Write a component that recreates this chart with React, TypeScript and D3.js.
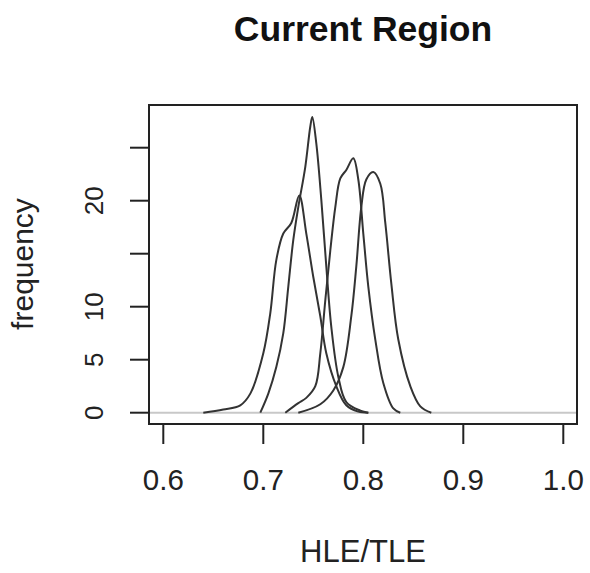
import * as d3 from 'd3'
import React from 'react'

// density curves: [x, frequency]
const regionA: [number, number][] = [
  [0.640, 0], [0.660, 0.3], [0.677, 0.7], [0.687, 1.8], [0.700, 5.6], [0.707, 9.4],
  [0.713, 14.4], [0.720, 16.9], [0.728, 17.9], [0.736, 20.5], [0.743, 16.9],
  [0.750, 12.8], [0.757, 9.1], [0.763, 5.6], [0.773, 2.5], [0.783, 0.7], [0.795, 0.1], [0.805, 0]
]
const regionB: [number, number][] = [
  [0.697, 0], [0.705, 1.8], [0.713, 4.3], [0.720, 7.5], [0.725, 11.9], [0.730, 16.3],
  [0.735, 19.4], [0.742, 23.2], [0.747, 27.0], [0.749, 27.9], [0.753, 25.4],
  [0.758, 20.1], [0.763, 13.8], [0.768, 8.1], [0.775, 3.4], [0.783, 1.0], [0.797, 0.2], [0.805, 0]
]
const regionC: [number, number][] = [
  [0.722, 0], [0.735, 0.9], [0.743, 1.4], [0.752, 2.5], [0.757, 5.6], [0.762, 10.6],
  [0.767, 15.3], [0.772, 19.4], [0.777, 22.1], [0.783, 22.9], [0.790, 24.0],
  [0.795, 22.0], [0.800, 16.9], [0.805, 11.9], [0.812, 6.9], [0.820, 2.8], [0.830, 0.4], [0.837, 0]
]
const regionD: [number, number][] = [
  [0.735, 0], [0.757, 0.8], [0.770, 2.1], [0.780, 4.3], [0.788, 9.1], [0.793, 13.8],
  [0.798, 19.4], [0.803, 22.0], [0.810, 22.7], [0.817, 21.6], [0.822, 17.9],
  [0.828, 12.2], [0.835, 6.9], [0.847, 2.5], [0.857, 0.6], [0.868, 0]
]
const curves = [regionA, regionB, regionC, regionD]

const xTicks = [0.6, 0.7, 0.8, 0.9, 1.0]
const xTickLabels = ['0.6', '0.7', '0.8', '0.9', '1.0']
const yTicks = [0, 5, 10, 15, 20, 25]
const yTickLabels = ['0', '5', '10', '', '20', '']

const title = 'Current Region'
const xTitle = 'HLE/TLE'
const yTitle = 'frequency'

const W = 590
const H = 573
const box = { left: 149, right: 577, top: 105, bottom: 424 }
const font = '"Liberation Sans", Arial, sans-serif'

export default function App() {
  const x = d3.scaleLinear().domain([0.6, 1.0]).range([163.3, 563.3])
  const y = d3.scaleLinear().domain([0, 25]).range([412.7, 147.7])

  const line = d3
    .line<[number, number]>()
    .x(d => x(d[0]))
    .y(d => y(d[1]))
    .curve(d3.curveCatmullRom.alpha(0.5))

  return (
    <svg width={W} height={H} style={{ position: 'absolute', left: 0, top: 0, background: '#fff' }}>
      <text x={363} y={41} textAnchor="middle" fontFamily={font} fontWeight="bold" fontSize={35.5} fill="#111">
        {title}
      </text>

      {/* zero line */}
      <line x1={box.left} x2={box.right} y1={y(0)} y2={y(0)} stroke="#c8c8c8" strokeWidth={2} />

      {curves.map((c, i) => (
        <path key={i} d={line(c) || ''} fill="none" stroke="#333" strokeWidth={2} />
      ))}

      <rect
        x={box.left}
        y={box.top}
        width={box.right - box.left}
        height={box.bottom - box.top}
        fill="none"
        stroke="#222"
        strokeWidth={2}
      />

      {/* x axis */}
      {xTicks.map((t, i) => (
        <g key={t}>
          <line x1={x(t)} x2={x(t)} y1={box.bottom} y2={444} stroke="#222" strokeWidth={2} />
          <text x={x(t)} y={490} textAnchor="middle" fontFamily={font} fontSize={29.5} fill="#222">
            {xTickLabels[i]}
          </text>
        </g>
      ))}

      {/* y axis */}
      {yTicks.map((t, i) => (
        <g key={t}>
          <line x1={130} x2={box.left} y1={y(t)} y2={y(t)} stroke="#222" strokeWidth={2} />
          <text
            transform={`translate(103,${y(t)}) rotate(-90)`}
            textAnchor="middle"
            fontFamily={font}
            fontSize={26}
            fill="#222"
          >
            {yTickLabels[i]}
          </text>
        </g>
      ))}

      <text x={363} y={561.5} textAnchor="middle" fontFamily={font} fontSize={31} fill="#222">
        {xTitle}
      </text>
      <text
        transform={`translate(33,264) rotate(-90)`}
        textAnchor="middle"
        fontFamily={font}
        fontSize={30}
        fill="#222"
      >
        {yTitle}
      </text>
    </svg>
  )
}
